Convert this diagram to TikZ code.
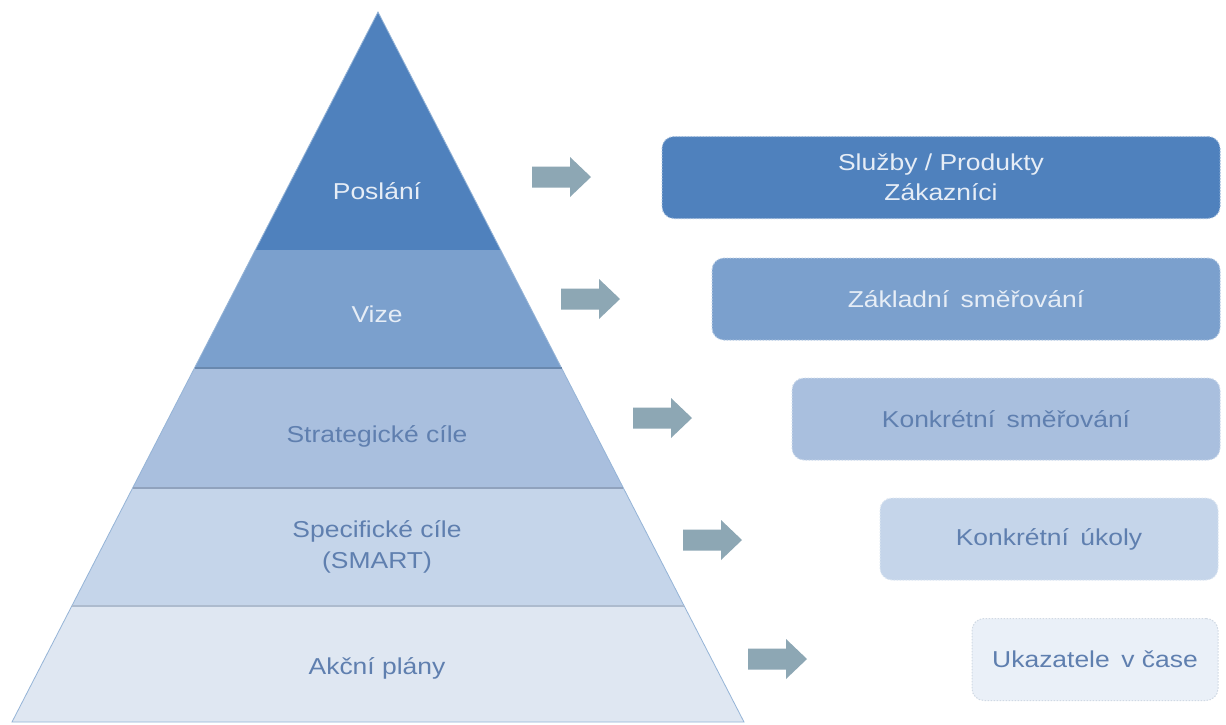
\documentclass[tikz,border=0pt]{standalone}
\usepackage{fontspec}
\setmainfont{Liberation Sans}[FakeStretch=1.15]
\definecolor{cA}{HTML}{4F81BD}
\definecolor{cB}{HTML}{7BA0CD}
\definecolor{cC}{HTML}{A9BFDE}
\definecolor{cD}{HTML}{C5D5EA}
\definecolor{cE}{HTML}{DFE7F2}
\definecolor{cEbox}{HTML}{EAF0F8}
\definecolor{arrowc}{HTML}{8DA7B4}
\definecolor{darktxt}{HTML}{5F7FAF}
\definecolor{lighttxt}{HTML}{E6EDF6}
\begin{document}
\begin{tikzpicture}[x=1pt,y=-1pt,
  lbl/.style={font=\fontsize{23}{31}\selectfont, align=center, inner sep=0pt},
  boxnode/.style={rounded corners=12pt, minimum height=82pt, inner sep=0pt,
    font=\fontsize{23}{30}\selectfont, align=center, line width=1pt,
    dash pattern=on 1.5pt off 1.5pt},
  sep/.style={line width=1.6pt},
  barrow/.pic={\fill[arrowc] (0,-10.5) -- (38,-10.5) -- (38,-20) -- (59,0) -- (38,20) -- (38,10.5) -- (0,10.5) -- cycle;}
]
\useasboundingbox (0,0) rectangle (1226,724);
\fill[white] (0,0) rectangle (1226,724);
% pyramid bands
\fill[cA] (378,12) -- (500.7,250) -- (255.3,250) -- cycle;
\fill[cB] (255.3,250) -- (500.7,250) -- (561.5,368) -- (194.5,368) -- cycle;
\fill[cC] (194.5,368) -- (561.5,368) -- (623.4,488) -- (132.6,488) -- cycle;
\fill[cD] (132.6,488) -- (623.4,488) -- (684.2,606) -- (71.8,606) -- cycle;
\fill[cE] (71.8,606) -- (684.2,606) -- (744,722) -- (12,722) -- cycle;
% outline edges
\draw[cA!60!white, line width=0.8pt] (378,12) -- (12,722) -- (744,722) -- cycle;
% separators
\draw[sep, cB!85!black] (194.5,368) -- (561.5,368);
\draw[sep, cC!85!black] (132.6,488) -- (623.4,488);
\draw[sep, cD!88!black] (71.8,606) -- (684.2,606);
% pyramid labels
\node[lbl, text=lighttxt] (p1) at (377,191) {Poslání};
\node[lbl, text=lighttxt] (p2) at (377,314) {Vize};
\node[lbl, text=darktxt] (p3) at (377,436) {Strategické cíle};
\node[lbl, text=darktxt] (p4) at (377,547) {Specifické cíle\\(SMART)};
\node[lbl, text=darktxt] (p5) at (377,668) {Akční plány};
% arrows
\pic at (532,177) {barrow};
\pic at (561,299) {barrow};
\pic at (633,418) {barrow};
\pic at (683,540) {barrow};
\pic at (748,659) {barrow};
% boxes
\node[boxnode, fill=cA, draw=cA!55!white, text=lighttxt, minimum width=558pt] (b1) at (941,177.5) {Služby / Produkty\\Zákazníci};
\node[boxnode, fill=cB, draw=cB!55!white, text=lighttxt, minimum width=508pt] (b2) at (966,299) {Základní\enspace směřování};
\node[boxnode, fill=cC, draw=cC!60!white, text=darktxt, minimum width=428pt] (b3) at (1006,419) {Konkrétní\enspace směřování};
\node[boxnode, fill=cD, draw=cD!60!white, text=darktxt, minimum width=338pt] (b4) at (1049,539) {Konkrétní\enspace úkoly};
\node[boxnode, fill=cEbox, draw=cD!90!black!60!white, text=darktxt, minimum width=246pt] (b5) at (1095,659.5) {Ukazatele\enspace v čase};
\end{tikzpicture}
\end{document}
